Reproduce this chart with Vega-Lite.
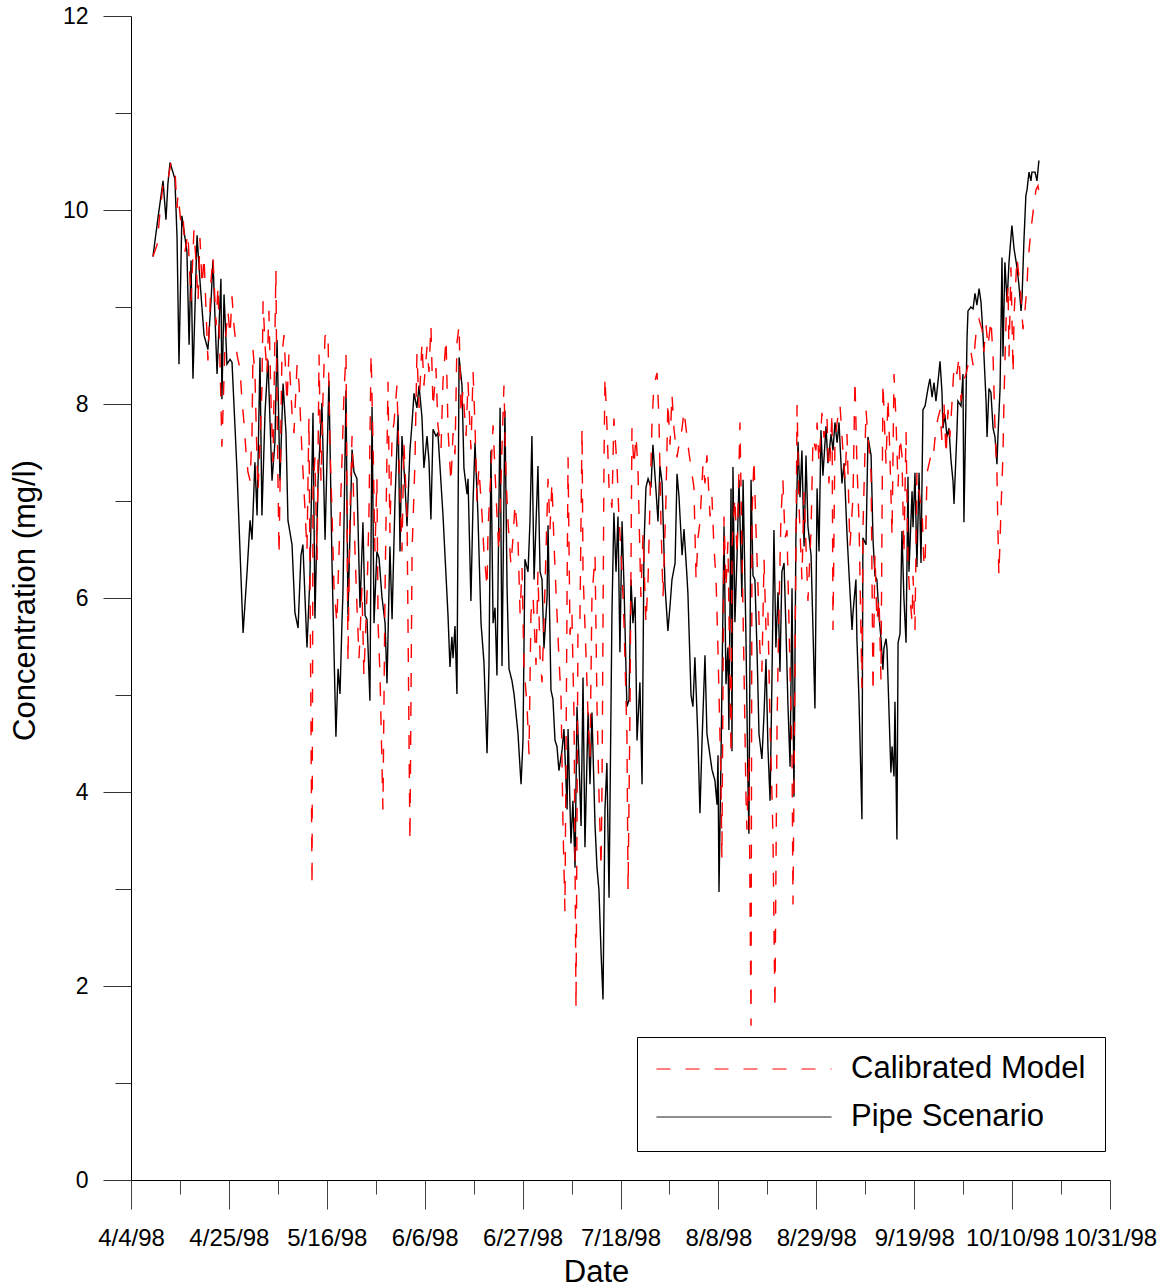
{
"$schema":"https://vega.github.io/schema/vega-lite/v6.json",
"width":979,"height":1164,
"autosize":"none",
"padding":{"left":131,"top":16,"right":55,"bottom":107},
"config":{"view":{"stroke":null},"font":"Liberation Sans","axis":{"labelFont":"Liberation Sans","titleFont":"Liberation Sans","grid":false},"legend":{"labelFont":"Liberation Sans"}},
"resolve":{"axis":{"x":"independent","y":"independent"}},
"layer":[
{"data":{"format":{"parse":{"t":"date:'%Y %j %H'"}},"values":[
{"t":"1998 098 17","v":9.52},{"t":"1998 099 19","v":9.92},{"t":"1998 100 21","v":10.30},{"t":"1998 101 12","v":9.90},{"t":"1998 101 22","v":10.27},{"t":"1998 102 09","v":10.49},{"t":"1998 103 10","v":10.32},{"t":"1998 103 21","v":9.72},{"t":"1998 104 07","v":8.41},{"t":"1998 104 22","v":9.94},
{"t":"1998 106 00","v":9.57},{"t":"1998 106 11","v":8.61},{"t":"1998 106 21","v":9.48},{"t":"1998 107 07","v":8.26},{"t":"1998 108 04","v":9.74},{"t":"1998 108 19","v":9.27},{"t":"1998 109 16","v":8.71},{"t":"1998 110 12","v":8.56},{"t":"1998 111 04","v":9.06},{"t":"1998 111 14","v":9.48},
{"t":"1998 112 11","v":8.31},{"t":"1998 113 07","v":9.29},{"t":"1998 113 12","v":8.05},{"t":"1998 113 23","v":9.13},{"t":"1998 114 14","v":8.41},{"t":"1998 115 06","v":8.46},{"t":"1998 115 16","v":8.43},{"t":"1998 116 18","v":7.30},{"t":"1998 118 01","v":5.64},{"t":"1998 118 21","v":6.25},
{"t":"1998 119 13","v":6.80},{"t":"1998 119 23","v":6.60},{"t":"1998 120 14","v":7.40},{"t":"1998 121 01","v":6.85},{"t":"1998 121 16","v":8.48},{"t":"1998 122 02","v":6.85},{"t":"1998 122 18","v":7.91},{"t":"1998 123 09","v":8.45},{"t":"1998 124 06","v":7.21},{"t":"1998 124 21","v":7.61},
{"t":"1998 125 08","v":8.66},{"t":"1998 125 23","v":7.21},{"t":"1998 126 15","v":8.21},{"t":"1998 127 06","v":7.70},{"t":"1998 127 16","v":6.80},{"t":"1998 128 13","v":6.55},{"t":"1998 129 04","v":5.85},{"t":"1998 129 20","v":5.69},{"t":"1998 130 11","v":6.44},{"t":"1998 130 21","v":6.55},
{"t":"1998 131 18","v":5.49},{"t":"1998 132 09","v":6.20},{"t":"1998 133 01","v":7.91},{"t":"1998 133 11","v":5.79},{"t":"1998 134 03","v":7.21},{"t":"1998 134 23","v":8.01},{"t":"1998 135 15","v":6.60},{"t":"1998 136 11","v":8.24},{"t":"1998 137 03","v":6.34},{"t":"1998 137 23","v":4.57},
{"t":"1998 138 10","v":5.27},{"t":"1998 138 20","v":5.01},{"t":"1998 139 06","v":5.74},{"t":"1998 139 11","v":6.04},{"t":"1998 140 03","v":8.14},{"t":"1998 140 13","v":5.82},{"t":"1998 141 10","v":7.53},{"t":"1998 141 20","v":7.30},{"t":"1998 142 11","v":7.23},{"t":"1998 143 03","v":5.90},
{"t":"1998 143 18","v":6.78},{"t":"1998 144 05","v":5.82},{"t":"1998 144 15","v":5.78},{"t":"1998 145 06","v":4.94},{"t":"1998 145 17","v":7.97},{"t":"1998 146 03","v":5.74},{"t":"1998 146 18","v":6.48},{"t":"1998 147 05","v":6.41},{"t":"1998 147 20","v":6.01},{"t":"1998 148 12","v":5.74},
{"t":"1998 148 22","v":5.12},{"t":"1998 149 13","v":6.53},{"t":"1998 150 00","v":5.78},{"t":"1998 150 15","v":7.00},{"t":"1998 151 07","v":7.89},{"t":"1998 151 17","v":6.48},{"t":"1998 152 03","v":7.67},{"t":"1998 152 19","v":7.15},{"t":"1998 153 05","v":6.74},{"t":"1998 153 20","v":7.52},
{"t":"1998 154 07","v":7.81},{"t":"1998 154 17","v":8.11},{"t":"1998 155 08","v":7.96},{"t":"1998 155 19","v":8.19},{"t":"1998 156 10","v":7.86},{"t":"1998 156 20","v":7.34},{"t":"1998 157 12","v":7.67},{"t":"1998 157 22","v":7.41},{"t":"1998 158 08","v":6.81},{"t":"1998 158 19","v":7.74},
{"t":"1998 159 10","v":7.67},{"t":"1998 159 20","v":7.70},{"t":"1998 160 22","v":6.86},{"t":"1998 162 00","v":5.82},{"t":"1998 162 10","v":5.29},{"t":"1998 162 20","v":5.60},{"t":"1998 163 02","v":5.38},{"t":"1998 163 12","v":5.71},{"t":"1998 163 22","v":5.01},{"t":"1998 164 09","v":8.48},
{"t":"1998 165 00","v":8.19},{"t":"1998 165 10","v":7.34},{"t":"1998 166 02","v":7.07},{"t":"1998 166 07","v":7.23},{"t":"1998 166 22","v":5.97},{"t":"1998 167 09","v":7.00},{"t":"1998 167 19","v":7.60},{"t":"1998 168 10","v":6.86},{"t":"1998 169 02","v":5.74},{"t":"1998 169 17","v":5.34},
{"t":"1998 170 09","v":4.40},{"t":"1998 170 19","v":5.30},{"t":"1998 171 05","v":7.52},{"t":"1998 171 16","v":5.74},{"t":"1998 172 02","v":5.90},{"t":"1998 172 12","v":5.20},{"t":"1998 173 04","v":7.96},{"t":"1998 173 14","v":5.30},{"t":"1998 174 05","v":7.93},{"t":"1998 174 16","v":6.11},
{"t":"1998 175 02","v":5.27},{"t":"1998 175 17","v":5.15},{"t":"1998 176 04","v":5.01},{"t":"1998 176 19","v":4.71},{"t":"1998 177 00","v":4.61},{"t":"1998 177 16","v":4.08},{"t":"1998 178 02","v":4.53},{"t":"1998 178 12","v":6.40},{"t":"1998 179 04","v":6.27},{"t":"1998 179 14","v":6.79},
{"t":"1998 180 00","v":7.67},{"t":"1998 180 11","v":6.19},{"t":"1998 181 02","v":7.05},{"t":"1998 181 07","v":7.36},{"t":"1998 181 18","v":6.27},{"t":"1998 182 04","v":6.19},{"t":"1998 182 14","v":5.48},{"t":"1998 183 06","v":6.01},{"t":"1998 183 11","v":6.75},{"t":"1998 184 02","v":5.05},
{"t":"1998 184 12","v":4.96},{"t":"1998 184 23","v":4.53},{"t":"1998 185 09","v":4.47},{"t":"1998 185 19","v":4.22},{"t":"1998 186 11","v":4.43},{"t":"1998 186 21","v":4.65},{"t":"1998 187 13","v":3.82},{"t":"1998 187 18","v":4.65},{"t":"1998 188 09","v":3.47},{"t":"1998 188 19","v":3.91},
{"t":"1998 189 06","v":3.22},{"t":"1998 189 16","v":4.88},{"t":"1998 190 02","v":4.35},{"t":"1998 190 13","v":3.65},{"t":"1998 190 23","v":5.18},{"t":"1998 191 09","v":3.43},{"t":"1998 192 01","v":4.82},{"t":"1998 192 11","v":4.08},{"t":"1998 192 21","v":4.82},{"t":"1998 193 13","v":3.65},
{"t":"1998 193 23","v":3.22},{"t":"1998 194 09","v":2.99},{"t":"1998 194 20","v":2.34},{"t":"1998 195 06","v":1.86},{"t":"1998 195 16","v":3.82},{"t":"1998 196 02","v":4.30},{"t":"1998 196 13","v":2.91},{"t":"1998 197 04","v":5.84},{"t":"1998 197 14","v":6.88},{"t":"1998 198 01","v":6.27},
{"t":"1998 198 11","v":6.84},{"t":"1998 198 21","v":5.44},{"t":"1998 199 08","v":6.79},{"t":"1998 199 18","v":6.13},{"t":"1998 200 09","v":4.88},{"t":"1998 200 20","v":4.95},{"t":"1998 201 06","v":6.19},{"t":"1998 201 16","v":5.74},{"t":"1998 202 03","v":6.01},{"t":"1998 202 13","v":4.53},
{"t":"1998 203 04","v":5.13},{"t":"1998 203 15","v":4.08},{"t":"1998 204 01","v":6.54},{"t":"1998 204 11","v":7.14},{"t":"1998 204 22","v":7.23},{"t":"1998 205 13","v":7.14},{"t":"1998 205 23","v":7.58},{"t":"1998 206 15","v":7.10},{"t":"1998 207 01","v":6.79},{"t":"1998 207 11","v":7.36},
{"t":"1998 207 22","v":7.19},{"t":"1998 208 13","v":6.13},{"t":"1998 209 04","v":5.66},{"t":"1998 209 15","v":5.92},{"t":"1998 210 01","v":6.19},{"t":"1998 210 17","v":6.36},{"t":"1998 211 03","v":7.28},{"t":"1998 211 13","v":7.05},{"t":"1998 212 05","v":6.44},{"t":"1998 212 15","v":6.71},
{"t":"1998 213 06","v":6.23},{"t":"1998 213 11","v":6.05},{"t":"1998 214 03","v":5.00},{"t":"1998 214 13","v":4.88},{"t":"1998 214 23","v":5.39},{"t":"1998 215 15","v":4.53},{"t":"1998 216 01","v":3.78},{"t":"1998 216 12","v":4.54},{"t":"1998 217 03","v":5.41},{"t":"1998 217 13","v":4.60},
{"t":"1998 218 15","v":4.23},{"t":"1998 219 06","v":4.12},{"t":"1998 219 17","v":3.87},{"t":"1998 219 22","v":4.38},{"t":"1998 220 03","v":2.97},{"t":"1998 220 13","v":4.30},{"t":"1998 221 05","v":6.74},{"t":"1998 221 15","v":5.11},{"t":"1998 222 01","v":5.49},{"t":"1998 222 06","v":4.64},
{"t":"1998 222 17","v":7.13},{"t":"1998 222 22","v":4.42},{"t":"1998 223 03","v":7.35},{"t":"1998 223 13","v":5.75},{"t":"1998 224 00","v":6.44},{"t":"1998 224 10","v":7.22},{"t":"1998 225 01","v":6.01},{"t":"1998 225 07","v":7.22},{"t":"1998 225 22","v":5.59},{"t":"1998 226 08","v":4.12},
{"t":"1998 226 13","v":3.57},{"t":"1998 227 00","v":7.22},{"t":"1998 227 10","v":6.23},{"t":"1998 227 20","v":6.19},{"t":"1998 228 07","v":5.45},{"t":"1998 228 17","v":4.60},{"t":"1998 229 08","v":4.34},{"t":"1998 229 19","v":4.81},{"t":"1998 230 05","v":5.37},{"t":"1998 230 15","v":4.46},
{"t":"1998 231 02","v":3.91},{"t":"1998 231 12","v":5.20},{"t":"1998 231 22","v":6.70},{"t":"1998 232 08","v":5.49},{"t":"1998 232 19","v":6.06},{"t":"1998 233 05","v":5.24},{"t":"1998 233 15","v":6.27},{"t":"1998 234 02","v":6.36},{"t":"1998 234 12","v":5.67},{"t":"1998 234 22","v":4.90},
{"t":"1998 235 09","v":4.26},{"t":"1998 235 19","v":6.10},{"t":"1998 236 05","v":3.95},{"t":"1998 236 15","v":6.62},{"t":"1998 237 02","v":7.61},{"t":"1998 237 12","v":7.04},{"t":"1998 237 22","v":7.52},{"t":"1998 238 09","v":6.53},{"t":"1998 238 19","v":7.47},{"t":"1998 239 05","v":6.74},
{"t":"1998 239 21","v":6.44},{"t":"1998 240 07","v":5.67},{"t":"1998 240 17","v":4.86},{"t":"1998 241 04","v":7.13},{"t":"1998 241 14","v":6.48},{"t":"1998 242 00","v":7.73},{"t":"1998 242 10","v":7.26},{"t":"1998 243 02","v":7.77},{"t":"1998 243 12","v":7.39},{"t":"1998 244 04","v":7.69},
{"t":"1998 244 14","v":7.52},{"t":"1998 245 00","v":7.81},{"t":"1998 245 11","v":7.60},{"t":"1998 245 21","v":7.81},{"t":"1998 246 12","v":7.18},{"t":"1998 246 23","v":7.39},{"t":"1998 247 14","v":6.66},{"t":"1998 248 00","v":6.27},{"t":"1998 248 16","v":5.67},{"t":"1998 248 21","v":5.85},
{"t":"1998 249 12","v":6.19},{"t":"1998 249 17","v":5.59},{"t":"1998 250 04","v":4.94},{"t":"1998 250 19","v":3.72},{"t":"1998 251 00","v":6.62},{"t":"1998 251 16","v":6.55},{"t":"1998 252 02","v":7.66},{"t":"1998 252 18","v":7.47},{"t":"1998 253 04","v":6.60},{"t":"1998 253 14","v":6.23},
{"t":"1998 254 00","v":6.19},{"t":"1998 254 11","v":5.81},{"t":"1998 254 21","v":5.58},{"t":"1998 255 07","v":5.26},{"t":"1998 255 12","v":5.48},{"t":"1998 255 23","v":5.58},{"t":"1998 256 04","v":5.48},{"t":"1998 256 14","v":4.85},{"t":"1998 257 00","v":4.20},{"t":"1998 257 06","v":4.47},
{"t":"1998 257 16","v":4.16},{"t":"1998 257 21","v":4.93},{"t":"1998 258 07","v":3.51},{"t":"1998 258 13","v":5.54},{"t":"1998 258 23","v":5.63},{"t":"1998 259 09","v":6.69},{"t":"1998 259 19","v":6.00},{"t":"1998 260 06","v":5.54},{"t":"1998 260 16","v":7.25},{"t":"1998 260 21","v":6.27},
{"t":"1998 261 13","v":7.10},{"t":"1998 261 18","v":6.73},{"t":"1998 262 04","v":7.29},{"t":"1998 262 14","v":6.32},{"t":"1998 263 01","v":7.29},{"t":"1998 263 11","v":6.36},{"t":"1998 263 21","v":7.94},{"t":"1998 264 08","v":7.98},{"t":"1998 264 23","v":8.16},{"t":"1998 265 09","v":8.26},
{"t":"1998 265 20","v":8.07},{"t":"1998 266 06","v":8.22},{"t":"1998 266 16","v":8.03},{"t":"1998 267 02","v":8.22},{"t":"1998 267 13","v":8.44},{"t":"1998 267 23","v":8.12},{"t":"1998 268 04","v":7.75},{"t":"1998 268 14","v":7.89},{"t":"1998 269 01","v":7.66},{"t":"1998 269 11","v":7.75},
{"t":"1998 269 21","v":7.43},{"t":"1998 270 08","v":7.20},{"t":"1998 270 13","v":6.97},{"t":"1998 271 04","v":7.71},{"t":"1998 271 09","v":8.03},{"t":"1998 272 01","v":7.98},{"t":"1998 272 11","v":8.31},{"t":"1998 272 16","v":6.78},{"t":"1998 273 08","v":8.68},{"t":"1998 273 13","v":8.96},
{"t":"1998 274 04","v":9.00},{"t":"1998 274 15","v":8.98},{"t":"1998 275 01","v":9.14},{"t":"1998 275 11","v":9.02},{"t":"1998 275 22","v":9.19},{"t":"1998 276 08","v":9.05},{"t":"1998 276 18","v":8.72},{"t":"1998 277 10","v":8.03},{"t":"1998 277 15","v":7.66},{"t":"1998 278 01","v":8.16},
{"t":"1998 278 11","v":8.12},{"t":"1998 278 22","v":7.75},{"t":"1998 279 08","v":7.66},{"t":"1998 279 18","v":7.38},{"t":"1998 279 23","v":7.66},{"t":"1998 280 10","v":8.16},{"t":"1998 280 20","v":9.51},{"t":"1998 281 01","v":8.49},{"t":"1998 281 11","v":9.46},{"t":"1998 281 22","v":9.05},
{"t":"1998 282 08","v":9.46},{"t":"1998 282 23","v":9.84},{"t":"1998 283 10","v":9.60},{"t":"1998 284 01","v":9.41},{"t":"1998 284 11","v":9.23},{"t":"1998 284 22","v":8.96},{"t":"1998 285 03","v":9.09},{"t":"1998 285 13","v":9.69},{"t":"1998 285 23","v":10.15},{"t":"1998 286 05","v":10.21},
{"t":"1998 286 15","v":10.39},{"t":"1998 287 01","v":10.30},{"t":"1998 287 06","v":10.39},{"t":"1998 287 22","v":10.39},{"t":"1998 288 08","v":10.30},{"t":"1998 288 18","v":10.51}
]},
"mark":{"type":"line","strokeWidth":1.4},
"encoding":{
"x":{"field":"t","type":"temporal","scale":{"domain":[{"year":1998,"month":4,"date":4},{"year":1998,"month":10,"date":31}],"nice":false},
"axis":{"orient":"bottom","values":[{"year":1998,"month":4,"date":4},{"year":1998,"month":4,"date":25},{"year":1998,"month":5,"date":16},{"year":1998,"month":6,"date":6},{"year":1998,"month":6,"date":27},{"year":1998,"month":7,"date":18},{"year":1998,"month":8,"date":8},{"year":1998,"month":8,"date":29},{"year":1998,"month":9,"date":19},{"year":1998,"month":10,"date":10},{"year":1998,"month":10,"date":31}],
"format":"%-m/%-d/%y","labelFlush":false,"labelOverlap":false,"labelFontSize":24,"labelColor":"#000000","labelPadding":17,"tickSize":29,"tickColor":"#444444","domainColor":"#000000","title":"Date","titleFontSize":31,"titleFontWeight":"normal","titleColor":"#000000","titleX":465,"titleY":101,"titleBaseline":"alphabetic","titleAlign":"center"}},
"y":{"field":"v","type":"quantitative","scale":{"domain":[0,12],"nice":false},
"axis":{"orient":"left","values":[0,2,4,6,8,10,12],"labelFontSize":23,"labelColor":"#000000","labelPadding":15,"tickSize":28,"tickColor":"#333333","domainColor":"#000000","title":"Concentration (mg/l)","titleFontSize":31,"titleFontWeight":"normal","titleColor":"#000000","titleAngle":270,"titleX":-97,"titleY":584,"titleBaseline":"alphabetic","titleAlign":"center"}},
"color":{"datum":"Pipe Scenario","type":"nominal","scale":{"domain":["Calibrated Model","Pipe Scenario"],"range":["#ff0000","#000000"]},
"legend":{"orient":"none","legendX":506,"legendY":1021,"title":null,"symbolType":"stroke","symbolSize":30625,"symbolStrokeWidth":1,"clipHeight":26,"labelFontSize":31,"labelColor":"#000000","labelLimit":0,"labelOffset":19,"padding":19,"rowPadding":17,"fillColor":"#ffffff","strokeColor":"#000000"}},
"strokeDash":{"datum":"Pipe Scenario","type":"nominal","scale":{"domain":["Calibrated Model","Pipe Scenario"],"range":[[14,15],[1,0]]}}
}},
{"data":{"format":{"parse":{"t":"date:'%Y %j %H'"}},"values":[
{"t":"1998 098 17","v":9.52},{"t":"1998 099 14","v":9.64},{"t":"1998 100 05","v":9.97},{"t":"1998 100 21","v":10.27},{"t":"1998 101 17","v":10.25},{"t":"1998 102 14","v":10.49},{"t":"1998 103 10","v":10.42},{"t":"1998 103 21","v":10.02},{"t":"1998 104 02","v":10.16},{"t":"1998 104 17","v":9.87},
{"t":"1998 105 04","v":9.94},{"t":"1998 105 14","v":9.57},{"t":"1998 106 05","v":9.76},{"t":"1998 106 21","v":9.06},{"t":"1998 107 12","v":9.79},{"t":"1998 107 23","v":9.46},{"t":"1998 108 09","v":9.06},{"t":"1998 108 19","v":9.71},{"t":"1998 109 06","v":9.22},{"t":"1998 109 16","v":9.52},
{"t":"1998 110 12","v":8.45},{"t":"1998 111 04","v":9.27},{"t":"1998 111 14","v":9.52},{"t":"1998 112 06","v":8.81},{"t":"1998 112 16","v":9.22},{"t":"1998 113 02","v":8.45},{"t":"1998 113 12","v":7.56},{"t":"1998 114 04","v":8.61},{"t":"1998 114 19","v":8.96},{"t":"1998 115 06","v":8.71},
{"t":"1998 115 16","v":9.11},{"t":"1998 116 02","v":8.81},{"t":"1998 116 18","v":8.51},{"t":"1998 117 09","v":8.36},{"t":"1998 117 19","v":8.05},{"t":"1998 118 06","v":7.80},{"t":"1998 118 16","v":7.51},{"t":"1998 119 02","v":7.30},{"t":"1998 119 13","v":7.21},{"t":"1998 119 23","v":7.70},
{"t":"1998 120 04","v":8.56},{"t":"1998 120 14","v":8.31},{"t":"1998 121 01","v":7.40},{"t":"1998 121 06","v":7.10},{"t":"1998 121 16","v":7.61},{"t":"1998 122 02","v":8.15},{"t":"1998 122 08","v":9.06},{"t":"1998 122 18","v":8.61},{"t":"1998 123 04","v":8.31},{"t":"1998 123 14","v":8.96},
{"t":"1998 124 01","v":8.01},{"t":"1998 124 11","v":7.40},{"t":"1998 125 02","v":9.38},{"t":"1998 125 08","v":7.91},{"t":"1998 125 18","v":6.44},{"t":"1998 126 09","v":8.51},{"t":"1998 126 20","v":8.71},{"t":"1998 127 11","v":8.01},{"t":"1998 127 21","v":8.51},{"t":"1998 128 13","v":7.91},
{"t":"1998 128 23","v":7.70},{"t":"1998 129 15","v":8.41},{"t":"1998 130 01","v":8.21},{"t":"1998 130 16","v":7.51},{"t":"1998 131 03","v":7.10},{"t":"1998 131 18","v":6.49},{"t":"1998 132 04","v":7.86},{"t":"1998 132 20","v":3.03},{"t":"1998 133 01","v":7.10},{"t":"1998 133 11","v":7.45},
{"t":"1998 133 22","v":6.39},{"t":"1998 134 08","v":8.51},{"t":"1998 134 18","v":7.21},{"t":"1998 135 04","v":8.05},{"t":"1998 135 15","v":8.70},{"t":"1998 136 06","v":8.74},{"t":"1998 136 16","v":7.60},{"t":"1998 137 03","v":6.86},{"t":"1998 137 13","v":6.11},{"t":"1998 138 04","v":5.74},
{"t":"1998 138 15","v":6.48},{"t":"1998 139 06","v":7.41},{"t":"1998 139 17","v":8.14},{"t":"1998 140 03","v":8.52},{"t":"1998 140 13","v":5.34},{"t":"1998 140 23","v":6.86},{"t":"1998 141 10","v":7.67},{"t":"1998 142 01","v":6.48},{"t":"1998 142 11","v":5.93},{"t":"1998 142 22","v":5.38},
{"t":"1998 143 13","v":6.11},{"t":"1998 143 23","v":5.20},{"t":"1998 144 15","v":6.04},{"t":"1998 145 01","v":6.86},{"t":"1998 145 12","v":8.52},{"t":"1998 145 22","v":7.60},{"t":"1998 146 08","v":6.48},{"t":"1998 146 18","v":7.23},{"t":"1998 147 00","v":5.74},{"t":"1998 147 10","v":5.20},
{"t":"1998 148 01","v":3.82},{"t":"1998 148 12","v":6.11},{"t":"1998 148 22","v":7.52},{"t":"1998 149 03","v":8.23},{"t":"1998 149 13","v":6.67},{"t":"1998 150 00","v":7.67},{"t":"1998 150 10","v":7.81},{"t":"1998 151 01","v":8.19},{"t":"1998 151 12","v":7.41},{"t":"1998 152 03","v":6.48},
{"t":"1998 152 13","v":7.60},{"t":"1998 153 05","v":6.86},{"t":"1998 153 20","v":3.49},{"t":"1998 154 07","v":6.48},{"t":"1998 154 22","v":7.41},{"t":"1998 155 08","v":8.52},{"t":"1998 155 19","v":7.96},{"t":"1998 156 10","v":8.63},{"t":"1998 156 20","v":8.19},{"t":"1998 157 12","v":8.59},
{"t":"1998 157 22","v":8.33},{"t":"1998 158 08","v":8.81},{"t":"1998 158 19","v":7.96},{"t":"1998 159 10","v":8.37},{"t":"1998 159 20","v":7.78},{"t":"1998 160 12","v":7.53},{"t":"1998 160 22","v":8.23},{"t":"1998 161 14","v":8.67},{"t":"1998 162 00","v":7.74},{"t":"1998 162 15","v":7.19},
{"t":"1998 163 02","v":7.70},{"t":"1998 163 12","v":7.48},{"t":"1998 163 22","v":8.63},{"t":"1998 164 09","v":8.81},{"t":"1998 164 19","v":7.89},{"t":"1998 165 05","v":8.14},{"t":"1998 165 21","v":7.67},{"t":"1998 166 07","v":8.23},{"t":"1998 166 22","v":7.53},{"t":"1998 167 09","v":8.33},
{"t":"1998 167 19","v":7.78},{"t":"1998 168 05","v":7.00},{"t":"1998 168 15","v":7.34},{"t":"1998 169 07","v":6.86},{"t":"1998 169 17","v":6.48},{"t":"1998 170 09","v":6.11},{"t":"1998 170 14","v":6.71},{"t":"1998 171 05","v":7.30},{"t":"1998 171 16","v":7.78},{"t":"1998 172 02","v":7.30},
{"t":"1998 172 12","v":6.86},{"t":"1998 172 22","v":6.48},{"t":"1998 173 14","v":7.56},{"t":"1998 174 00","v":8.19},{"t":"1998 174 11","v":7.23},{"t":"1998 174 21","v":6.78},{"t":"1998 175 12","v":6.34},{"t":"1998 175 23","v":6.63},{"t":"1998 176 09","v":6.97},{"t":"1998 177 00","v":6.62},
{"t":"1998 177 11","v":5.84},{"t":"1998 177 21","v":6.31},{"t":"1998 178 07","v":5.31},{"t":"1998 178 23","v":4.88},{"t":"1998 179 09","v":4.39},{"t":"1998 179 19","v":5.84},{"t":"1998 180 06","v":6.01},{"t":"1998 180 21","v":5.31},{"t":"1998 181 07","v":6.27},{"t":"1998 181 18","v":5.39},
{"t":"1998 182 04","v":5.13},{"t":"1998 182 19","v":6.09},{"t":"1998 183 11","v":7.23},{"t":"1998 183 21","v":6.71},{"t":"1998 184 07","v":7.19},{"t":"1998 184 18","v":6.54},{"t":"1998 185 09","v":5.84},{"t":"1998 185 19","v":5.39},{"t":"1998 186 06","v":4.96},{"t":"1998 186 16","v":3.65},
{"t":"1998 187 02","v":2.77},{"t":"1998 187 13","v":6.05},{"t":"1998 187 18","v":7.45},{"t":"1998 188 04","v":5.62},{"t":"1998 188 14","v":5.84},{"t":"1998 189 01","v":4.74},{"t":"1998 189 11","v":1.77},{"t":"1998 189 21","v":5.66},{"t":"1998 190 07","v":5.74},{"t":"1998 190 18","v":7.75},
{"t":"1998 190 23","v":6.27},{"t":"1998 191 14","v":5.44},{"t":"1998 192 01","v":4.78},{"t":"1998 192 11","v":4.35},{"t":"1998 192 21","v":6.01},{"t":"1998 193 13","v":6.44},{"t":"1998 193 23","v":4.88},{"t":"1998 194 09","v":4.00},{"t":"1998 194 20","v":3.22},{"t":"1998 195 01","v":4.08},
{"t":"1998 195 11","v":7.40},{"t":"1998 195 16","v":8.28},{"t":"1998 196 02","v":7.79},{"t":"1998 196 13","v":7.14},{"t":"1998 197 04","v":6.93},{"t":"1998 197 14","v":7.85},{"t":"1998 198 06","v":7.36},{"t":"1998 198 16","v":6.84},{"t":"1998 199 08","v":6.27},{"t":"1998 199 18","v":5.74},
{"t":"1998 200 09","v":4.61},{"t":"1998 200 15","v":2.99},{"t":"1998 201 01","v":4.88},{"t":"1998 201 11","v":7.75},{"t":"1998 201 21","v":7.36},{"t":"1998 202 08","v":7.67},{"t":"1998 202 18","v":7.32},{"t":"1998 203 09","v":6.01},{"t":"1998 203 20","v":6.66},{"t":"1998 204 11","v":5.74},
{"t":"1998 204 22","v":6.19},{"t":"1998 205 08","v":7.01},{"t":"1998 205 18","v":7.79},{"t":"1998 206 04","v":8.20},{"t":"1998 206 20","v":8.32},{"t":"1998 207 06","v":7.85},{"t":"1998 207 16","v":6.79},{"t":"1998 208 03","v":6.01},{"t":"1998 208 18","v":7.01},{"t":"1998 209 04","v":8.02},
{"t":"1998 209 15","v":7.58},{"t":"1998 210 01","v":8.10},{"t":"1998 210 11","v":7.75},{"t":"1998 211 03","v":7.45},{"t":"1998 211 13","v":7.58},{"t":"1998 212 05","v":7.75},{"t":"1998 212 15","v":7.93},{"t":"1998 213 06","v":7.67},{"t":"1998 213 17","v":7.49},{"t":"1998 214 08","v":7.28},
{"t":"1998 214 18","v":7.14},{"t":"1998 215 05","v":6.19},{"t":"1998 215 15","v":6.62},{"t":"1998 216 01","v":6.78},{"t":"1998 216 17","v":7.39},{"t":"1998 217 03","v":7.18},{"t":"1998 217 13","v":7.47},{"t":"1998 218 05","v":6.84},{"t":"1998 218 15","v":7.04},{"t":"1998 219 01","v":6.53},
{"t":"1998 219 12","v":6.19},{"t":"1998 219 22","v":5.45},{"t":"1998 220 13","v":4.16},{"t":"1998 220 18","v":3.31},{"t":"1998 221 05","v":6.84},{"t":"1998 221 15","v":6.10},{"t":"1998 222 01","v":6.58},{"t":"1998 222 17","v":4.38},{"t":"1998 222 22","v":6.53},{"t":"1998 223 13","v":7.04},
{"t":"1998 224 00","v":6.44},{"t":"1998 224 15","v":7.81},{"t":"1998 225 01","v":6.53},{"t":"1998 225 12","v":5.24},{"t":"1998 225 22","v":3.95},{"t":"1998 226 03","v":3.61},{"t":"1998 226 13","v":4.38},{"t":"1998 227 00","v":1.59},{"t":"1998 227 05","v":6.84},{"t":"1998 227 15","v":7.43},
{"t":"1998 228 01","v":6.74},{"t":"1998 228 12","v":6.10},{"t":"1998 228 22","v":5.45},{"t":"1998 229 08","v":5.24},{"t":"1998 229 19","v":6.40},{"t":"1998 230 05","v":5.67},{"t":"1998 230 15","v":5.85},{"t":"1998 231 02","v":4.68},{"t":"1998 231 12","v":3.95},{"t":"1998 231 17","v":3.53},
{"t":"1998 232 03","v":1.76},{"t":"1998 232 14","v":4.72},{"t":"1998 233 00","v":5.89},{"t":"1998 233 10","v":6.84},{"t":"1998 233 20","v":7.22},{"t":"1998 234 07","v":6.62},{"t":"1998 234 17","v":6.70},{"t":"1998 235 09","v":5.24},{"t":"1998 235 19","v":4.38},{"t":"1998 236 00","v":2.84},
{"t":"1998 236 10","v":5.24},{"t":"1998 236 21","v":7.99},{"t":"1998 237 07","v":6.96},{"t":"1998 237 22","v":6.19},{"t":"1998 238 09","v":7.09},{"t":"1998 238 19","v":6.53},{"t":"1998 239 05","v":5.97},{"t":"1998 239 21","v":6.70},{"t":"1998 240 07","v":7.65},{"t":"1998 240 22","v":7.52},
{"t":"1998 241 04","v":7.81},{"t":"1998 241 14","v":7.39},{"t":"1998 242 05","v":7.91},{"t":"1998 242 16","v":7.65},{"t":"1998 243 07","v":7.86},{"t":"1998 243 17","v":7.18},{"t":"1998 244 09","v":7.91},{"t":"1998 244 14","v":5.67},{"t":"1998 245 00","v":7.61},{"t":"1998 245 11","v":7.81},
{"t":"1998 246 02","v":7.99},{"t":"1998 246 17","v":7.52},{"t":"1998 247 04","v":7.22},{"t":"1998 247 14","v":7.69},{"t":"1998 248 05","v":6.53},{"t":"1998 248 21","v":7.04},{"t":"1998 249 07","v":8.25},{"t":"1998 249 17","v":7.39},{"t":"1998 250 04","v":6.78},{"t":"1998 250 19","v":5.07},
{"t":"1998 251 00","v":6.69},{"t":"1998 251 16","v":7.94},{"t":"1998 252 02","v":7.66},{"t":"1998 252 18","v":7.29},{"t":"1998 253 04","v":5.02},{"t":"1998 253 14","v":6.45},{"t":"1998 254 00","v":5.76},{"t":"1998 254 11","v":6.00},{"t":"1998 254 21","v":5.16},{"t":"1998 255 07","v":8.22},
{"t":"1998 255 23","v":7.38},{"t":"1998 256 09","v":8.07},{"t":"1998 256 19","v":7.47},{"t":"1998 257 06","v":6.64},{"t":"1998 257 16","v":8.31},{"t":"1998 258 02","v":7.85},{"t":"1998 258 13","v":7.15},{"t":"1998 258 23","v":7.66},{"t":"1998 259 09","v":7.47},{"t":"1998 259 19","v":6.45},
{"t":"1998 260 06","v":7.71},{"t":"1998 260 16","v":6.36},{"t":"1998 261 02","v":6.00},{"t":"1998 261 13","v":5.76},{"t":"1998 261 18","v":6.23},{"t":"1998 262 04","v":5.67},{"t":"1998 262 14","v":7.29},{"t":"1998 263 06","v":7.01},{"t":"1998 263 16","v":6.92},{"t":"1998 264 02","v":6.36},
{"t":"1998 264 08","v":6.32},{"t":"1998 264 18","v":7.29},{"t":"1998 265 04","v":7.38},{"t":"1998 265 14","v":7.47},{"t":"1998 266 01","v":7.43},{"t":"1998 266 16","v":7.75},{"t":"1998 267 02","v":7.85},{"t":"1998 267 13","v":7.94},{"t":"1998 267 23","v":7.62},{"t":"1998 268 09","v":8.03},
{"t":"1998 268 20","v":7.47},{"t":"1998 269 06","v":7.94},{"t":"1998 269 16","v":7.66},{"t":"1998 270 03","v":8.03},{"t":"1998 270 13","v":8.40},{"t":"1998 271 04","v":8.31},{"t":"1998 271 15","v":8.49},{"t":"1998 272 01","v":8.03},{"t":"1998 272 11","v":8.22},{"t":"1998 273 03","v":8.31},
{"t":"1998 273 13","v":8.40},{"t":"1998 274 04","v":8.54},{"t":"1998 274 15","v":8.40},{"t":"1998 275 06","v":8.72},{"t":"1998 275 11","v":8.77},{"t":"1998 275 22","v":8.87},{"t":"1998 276 13","v":8.77},{"t":"1998 276 23","v":8.54},{"t":"1998 277 10","v":8.81},{"t":"1998 277 20","v":8.59},
{"t":"1998 278 11","v":8.87},{"t":"1998 278 22","v":8.49},{"t":"1998 279 08","v":7.75},{"t":"1998 279 18","v":7.29},{"t":"1998 279 23","v":6.69},{"t":"1998 280 04","v":6.23},{"t":"1998 280 15","v":6.92},{"t":"1998 281 01","v":7.47},{"t":"1998 281 06","v":8.03},{"t":"1998 281 17","v":8.87},
{"t":"1998 282 03","v":9.23},{"t":"1998 282 08","v":8.49},{"t":"1998 282 18","v":9.41},{"t":"1998 283 05","v":8.31},{"t":"1998 283 10","v":8.91},{"t":"1998 284 01","v":9.51},{"t":"1998 284 11","v":9.32},{"t":"1998 284 22","v":9.09},{"t":"1998 285 08","v":8.77},{"t":"1998 285 18","v":8.96},
{"t":"1998 286 05","v":9.23},{"t":"1998 286 10","v":9.46},{"t":"1998 286 20","v":9.69},{"t":"1998 287 06","v":9.88},{"t":"1998 287 17","v":10.06},{"t":"1998 288 03","v":10.21},{"t":"1998 288 13","v":10.25},{"t":"1998 289 00","v":10.11}
]},
"mark":{"type":"line","strokeWidth":1.4},
"encoding":{
"x":{"field":"t","type":"temporal","axis":null},
"y":{"field":"v","type":"quantitative","axis":null},
"color":{"datum":"Calibrated Model","type":"nominal"},
"strokeDash":{"datum":"Calibrated Model","type":"nominal"}
}},
{"data":{"values":[{}]},
"mark":{"type":"point","opacity":0},
"encoding":{
"x":{"datum":{"year":1998,"month":4,"date":4},"type":"temporal",
"axis":{"orient":"bottom","values":[{"year":1998,"month":4,"date":14,"hours":12},{"year":1998,"month":5,"date":5,"hours":12},{"year":1998,"month":5,"date":26,"hours":12},{"year":1998,"month":6,"date":16,"hours":12},{"year":1998,"month":7,"date":7,"hours":12},{"year":1998,"month":7,"date":28,"hours":12},{"year":1998,"month":8,"date":18,"hours":12},{"year":1998,"month":9,"date":8,"hours":12},{"year":1998,"month":9,"date":29,"hours":12},{"year":1998,"month":10,"date":20,"hours":12}],"labels":false,"domain":false,"tickSize":14,"tickColor":"#444444","title":null}},
"y":{"datum":0,"type":"quantitative",
"axis":{"orient":"left","values":[1,3,5,7,9,11],"labels":false,"domain":false,"tickSize":16,"tickColor":"#333333","title":null}}
}}
]
}
